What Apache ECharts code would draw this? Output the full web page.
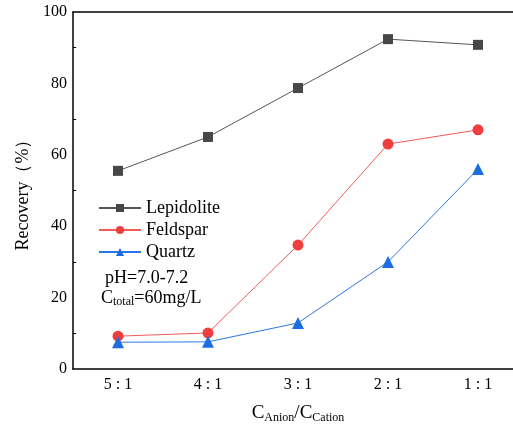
<!DOCTYPE html>
<html><head><meta charset="utf-8">
<script src="https://cdn.jsdelivr.net/npm/echarts@6/dist/echarts.min.js"></script>
<style>html,body{margin:0;padding:0;background:#fff}#c{width:513px;height:427px}</style>
</head><body><div id="c"></div>
<script>
var categories = ['5 : 1', '4 : 1', '3 : 1', '2 : 1', '1 : 1'];
var lepidolite = [55.5, 65.0, 78.7, 92.4, 90.8];
var feldspar = [9.2, 10.1, 34.7, 63.0, 67.0];
var quartz = [7.5, 7.6, 12.9, 30.0, 56.0];
var yTicks = [0, 20, 40, 60, 80, 100];

var F = '"Liberation Serif","Times New Roman",serif';
var chart = echarts.init(document.getElementById('c'));
function ser(name, data, sym, size, lineColor, symColor) {
  return {
    name: name, type: 'line', data: data, symbol: sym, symbolSize: size,
    lineStyle: {color: lineColor, width: 1},
    itemStyle: {color: symColor},
    emphasis: {disabled: true}, z: 5
  };
}
chart.setOption({
  animation: false,
  grid: {left: 73, right: -10, top: 12, bottom: 58, containLabel: false, outerBoundsMode: 'none'},
  legend: {
    orient: 'vertical', left: 93, top: 194, itemWidth: 42, itemHeight: 10, itemGap: 4,
    textStyle: {fontFamily: F, fontSize: 18, color: '#000'},
    data: ['Lepidolite', 'Feldspar', 'Quartz']
  },
  xAxis: [{
    type: 'category', data: categories, boundaryGap: true,
    axisLine: {lineStyle: {color: '#000', width: 1.5}},
    axisTick: {inside: true, length: 6, alignWithLabel: true, lineStyle: {color: '#000'}},
    axisLabel: {fontFamily: F, fontSize: 16, color: '#000', margin: 8},
    name: '{a|C}{s|Anion}{a|/C}{s|Cation}', nameLocation: 'middle', nameGap: 33,
    nameTextStyle: {
      rich: {
        a: {fontFamily: F, fontSize: 19, color: '#000', lineHeight: 22},
        s: {fontFamily: F, fontSize: 12, color: '#000', lineHeight: 22, padding: [9, 0, 0, 0]}
      }
    }
  }, {
    type: 'category', data: categories, position: 'top',
    axisLine: {lineStyle: {color: '#000', width: 1.5}},
    axisTick: {show: false}, axisLabel: {show: false}
  }],
  yAxis: {
    type: 'value', min: yTicks[0], max: yTicks[yTicks.length - 1], interval: 20,
    axisLine: {show: true, lineStyle: {color: '#000', width: 1.5}},
    axisTick: {inside: true, length: 6, lineStyle: {color: '#000'}},
    minorTick: {show: true, splitNumber: 2, length: 3, lineStyle: {color: '#000'}},
    splitLine: {show: false},
    axisLabel: {fontFamily: F, fontSize: 16, color: '#000', margin: 6},
    name: 'Recovery（%）', nameLocation: 'middle', nameGap: 41,
    nameTextStyle: {fontFamily: F, fontSize: 18, color: '#000'}
  },
  graphic: [{
    type: 'text', left: 105, top: 269,
    style: {text: 'pH=7.0-7.2', font: '18px ' + F, fill: '#000'}
  }, {
    type: 'text', left: 101, top: 288,
    style: {
      text: '{a|C}{s|total}{a|=60mg/L}',
      rich: {
        a: {fontFamily: F, fontSize: 18, fill: '#000', lineHeight: 20},
        s: {fontFamily: F, fontSize: 12, fill: '#000', lineHeight: 20, padding: [8, 0, 0, 0]}
      }
    }
  }],
  series: [
    ser('Lepidolite', lepidolite, 'rect', 10, '#555555', '#474747'),
    ser('Feldspar', feldspar, 'circle', 11, '#f25a5a', '#ef3e3e'),
    ser('Quartz', quartz, 'triangle', 12, '#2a78e4', '#1c6ee0')
  ]
});
</script></body></html>
